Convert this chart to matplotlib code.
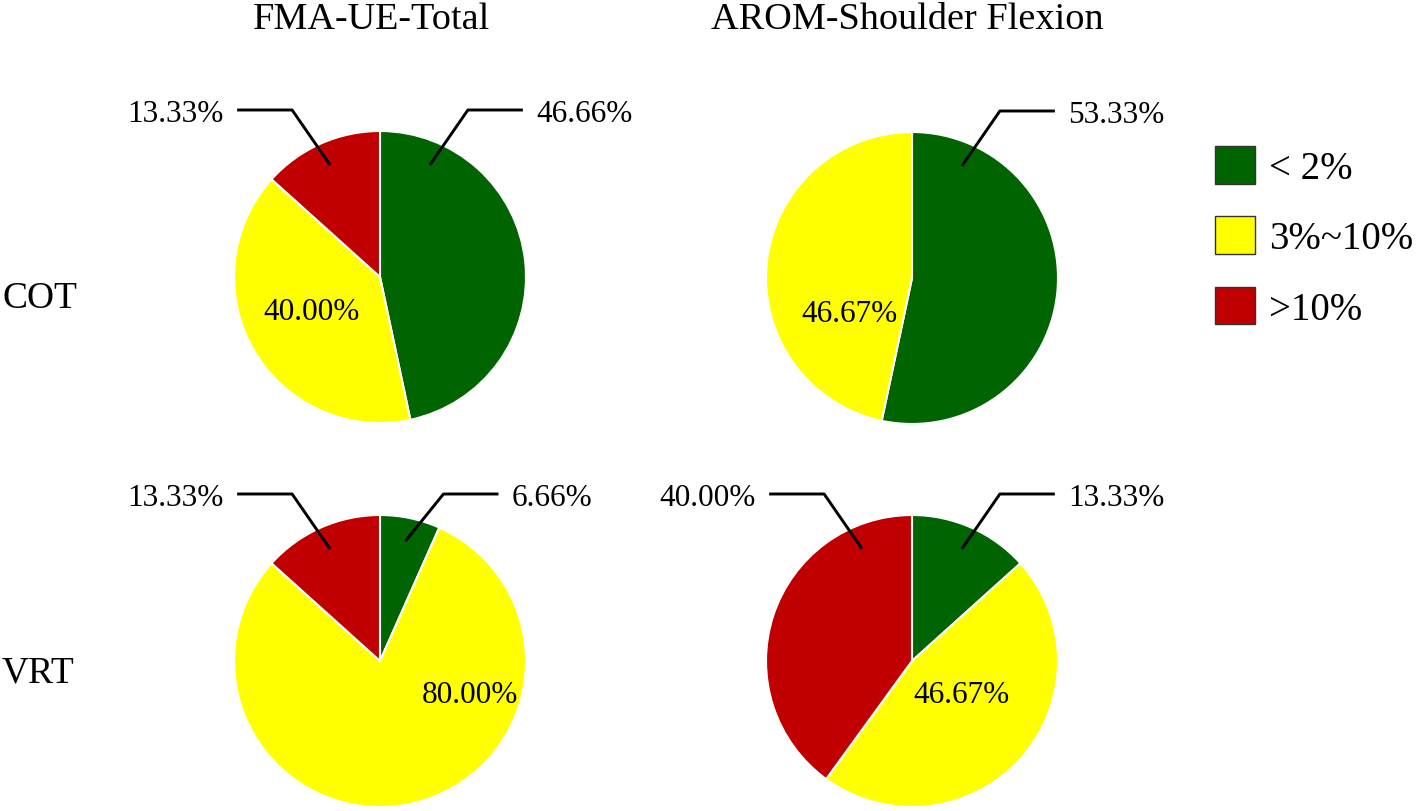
import matplotlib.pyplot as plt
from matplotlib.patches import Patch
import numpy as np

plt.rcParams['font.family'] = ['Liberation Serif', 'DejaVu Serif']

# data
col_titles = ['FMA-UE-Total', 'AROM-Shoulder Flexion']
row_titles = ['COT', 'VRT']
categories = ['< 2%', '3%~10%', '>10%']
cot_fma = [46.66, 40.00, 13.33]
cot_arom = [53.33, 46.67, 0.0]
vrt_fma = [6.66, 80.00, 13.33]
vrt_arom = [13.33, 46.67, 40.00]

colors = ['#006400', '#FFFF00', '#C00000']
placement = ['out', 'in', 'out']   # yellow label inside, others with leader line

W, H = 1416, 812
fig = plt.figure(figsize=(W/100, H/100), dpi=100)
ax = fig.add_axes([0, 0, 1, 1])

R = 146
centers = [(380, H-278), (912, H-279), (380, H-662), (912, H-662)]
# inner label offsets (px, relative to pie centre)
inner_off = [(-68, -42), (-62, -43), (90, -41), (50, -41)]
pies = [cot_fma, cot_arom, vrt_fma, vrt_arom]

for vals, c, off in zip(pies, centers, inner_off):
    vals = np.array(vals)
    keep = vals > 0
    v = vals[keep]
    cols = [colors[i] for i in range(3) if keep[i]]
    pl = [placement[i] for i in range(3) if keep[i]]
    ax.pie(v, colors=cols, startangle=90, counterclock=False, center=c, radius=R,
           wedgeprops=dict(edgecolor='white', linewidth=1.5))
    cum = np.cumsum(v) - v/2
    for val, mid, p in zip(v, cum, pl):
        txt = f'{val:.2f}%'
        if p == 'in':
            ax.text(c[0]+off[0], c[1]+off[1], txt, ha='center', va='baseline', fontsize=22.5)
            continue
        ang = 90 - mid/100*360
        ang = (ang + 180) % 360 - 180
        ang = np.clip(ang, 66, 114)
        ax_ = c[0] + 0.84*R*np.cos(np.radians(ang))
        ay_ = c[1] + 0.84*R*np.sin(np.radians(ang))
        s = 1 if ang < 90 else -1
        kx, ky = ax_ + s*38, c[1] + 167
        ex = kx + s*55
        ax.plot([ax_, kx, ex], [ay_, ky, ky], color='black', lw=2.1, solid_capstyle='butt')
        ax.text(ex + s*13, ky - 11, txt, ha='left' if s > 0 else 'right',
                va='baseline', fontsize=22.5)

ax.text(371, H-29, col_titles[0], ha='center', va='baseline', fontsize=27.5)
ax.text(907, H-29, col_titles[1], ha='center', va='baseline', fontsize=27.5)
ax.text(2, H-308, row_titles[0], ha='left', va='baseline', fontsize=27)
ax.text(2, H-683, row_titles[1], ha='left', va='baseline', fontsize=27)

handles = [Patch(facecolor=col, edgecolor='#333333', linewidth=1) for col in colors]
fig.legend(handles, categories, loc='upper left', bbox_to_anchor=(1215/W, 1-147/H),
           frameon=False, fontsize=28, handlelength=1.03, handleheight=1.12,
           handletextpad=0.35, labelspacing=0.75, borderpad=0, borderaxespad=0)

ax.set_xlim(0, W)
ax.set_ylim(0, H)
ax.set_aspect('equal')
ax.axis('off')

plt.savefig('out.png', dpi=100)
